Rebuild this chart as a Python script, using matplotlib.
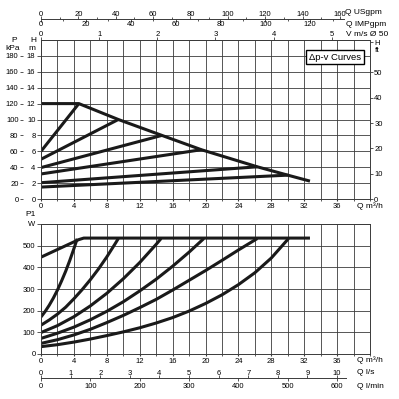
import numpy as np
import matplotlib
matplotlib.use('Agg')
import matplotlib.pyplot as plt

plt.rcParams['font.family'] = ['Liberation Sans', 'DejaVu Sans']
plt.rcParams['font.size'] = 5.5

# head curves (Q m3/h, H m)
head_max_q = [0, 4.6, 9.4, 14.7, 19.5, 26.3, 30.0, 32.7]
head_max_h = [12, 12, 10, 8, 6.2, 4.05, 3.0, 2.25]
dpv_start_h = [6.0, 5.0, 3.95, 3.15, 2.05, 1.5]
dpv_end_q = [4.6, 9.4, 14.7, 19.5, 26.3, 30.0]
dpv_end_h = [12, 10, 8, 6.2, 4.05, 3.0]

# power curves (Q m3/h, P1 W)
pmax_q = [0, 4.6, 5.2, 32.7]
pmax_p = [447, 528, 535, 535]
power_q = [
    [0, 0.5, 1, 1.5, 2, 2.5, 3, 3.5, 4, 4.4],
    [0, 1, 2, 3, 4, 5, 6, 7, 8, 9, 9.4],
    [0, 2, 4, 6, 8, 10, 12, 14, 14.6],
    [0, 2, 4, 6, 8, 10, 12, 14, 16, 18, 19.8],
    [0, 2, 4, 6, 8, 10, 12, 14, 16, 18, 20, 22, 24, 26.3],
    [0, 2, 4, 6, 8, 10, 12, 14, 16, 18, 20, 22, 24, 26, 28, 30.1],
]
power_p = [
    [171, 196, 225, 258, 295, 337, 382, 432, 486, 532],
    [133, 157, 184, 216, 255, 297, 343, 393, 448, 508, 533],
    [99, 131, 172, 222, 280, 347, 422, 506, 533],
    [72, 96, 124, 158, 197, 241, 291, 345, 405, 470, 533],
    [49, 66, 88, 114, 145, 178, 214, 252, 295, 340, 385, 432, 480, 533],
    [34, 43, 55, 69, 85, 102, 121, 143, 168, 198, 233, 273, 320, 375, 443, 533],
]

q_ticks = list(range(0, 37, 4))
h_ticks = list(range(0, 19, 2))
kpa_ticks = list(range(0, 181, 20))
ft_ticks = [0, 10, 20, 30, 40, 50]
w_ticks = list(range(0, 601, 100))
usgpm_ticks = list(range(0, 161, 20))
impgpm_ticks = list(range(0, 121, 20))
v_ticks = [0, 1, 2, 3, 4, 5]
ls_ticks = list(range(0, 11))
lmin_ticks = list(range(0, 601, 100))

# unit factors per m3/h
USGPM = 4.403
IMPGPM = 3.666
V50 = 1 / 7.07
LS = 1 / 3.6
LMIN = 1 / 0.06

W = 399


def fx(x):
    return x / W


def fy(y):
    return 1 - y / W


fig = plt.figure(figsize=(3.99, 3.99), dpi=100)
fig.patch.set_facecolor('white')
GRID = '#3a3a3a'
LW = 2.2

left, right = 41, 370
ax1 = fig.add_axes([fx(left), fy(199), fx(right) - fx(left), fy(40) - fy(199)])
ax2 = fig.add_axes([fx(left), fy(354), fx(right) - fx(left), fy(224) - fy(354)])

for ax in (ax1, ax2):
    ax.set_xlim(0, 40)
    ax.set_xticks(q_ticks)
    ax.set_xticks(range(0, 41, 2), minor=True)
    ax.grid(True, which='both', color=GRID, lw=0.6)
    ax.tick_params(axis='x', which='both', direction='out', length=1.5, pad=1.5, color=GRID)
    ax.tick_params(axis='y', which='both', direction='out', length=3, pad=1, color=GRID, width=0.6)
    for s in ax.spines.values():
        s.set_color(GRID)
        s.set_linewidth(0.7)
    ax.set_axisbelow(True)

# top panel
ax1.set_ylim(0, 20)
ax1.set_yticks(h_ticks)
ax1.set_yticks([20], minor=True)
ax1.tick_params(axis='y', which='minor', length=0)
ax1.plot(head_max_q, head_max_h, color='#1a1a1a', lw=LW, solid_capstyle='butt', solid_joinstyle='miter')
for h0, q1, h1 in zip(dpv_start_h, dpv_end_q, dpv_end_h):
    ax1.plot([0, q1], [h0, h1], color='#1a1a1a', lw=LW, solid_capstyle='butt')

sec = ax1.secondary_xaxis('top', functions=(lambda q: q * V50, lambda v: v / V50))
sec.set_xticks(v_ticks)
sec.tick_params(direction='out', length=2.2, pad=-0.6, color=GRID, width=0.6)
sec.spines['top'].set_visible(False)

axk = ax1.twinx()
axk.set_ylim(0, 200)
axk.yaxis.tick_left()
axk.set_yticks(kpa_ticks)
for s in axk.spines.values():
    s.set_visible(False)
axk.spines['left'].set_position(('outward', 13))
axk.tick_params(axis='y', direction='out', length=2.2, pad=1, color=GRID, width=0.6)

axf = ax1.twinx()
axf.set_ylim(0, 62.8)
axf.set_yticks(ft_ticks + [62.0])
axf.set_yticklabels([str(t) for t in ft_ticks] + ['H'])
for s in axf.spines.values():
    s.set_visible(False)
axf.tick_params(axis='y', direction='out', length=2.2, pad=0.8, color=GRID, width=0.6)

# bottom panel
ax2.set_ylim(0, 600)
ax2.set_yticks(w_ticks)
ax2.set_yticklabels([str(t) for t in w_ticks[:-1]] + ['W'])
ax2.plot(pmax_q, pmax_p, color='#1a1a1a', lw=LW, solid_capstyle='butt')
for qs, ps in zip(power_q, power_p):
    ax2.plot(qs, ps, color='#1a1a1a', lw=LW, solid_capstyle='butt')

# flow scales above
wid = fx(right) - fx(left)
axg = fig.add_axes([fx(left), fy(19), wid, 1e-6])
axg.set_xlim(0, 40 * USGPM)
axg.patch.set_visible(False)
for k in ('left', 'right', 'bottom'):
    axg.spines[k].set_visible(False)
axg.spines['top'].set_bounds(0, 162)
axg.spines['top'].set_color(GRID)
axg.spines['top'].set_linewidth(0.7)
axg.set_yticks([])
axg.xaxis.tick_top()
axg.set_xticks(usgpm_ticks)
axg.set_xticks(range(10, 161, 20), minor=True)
axg.tick_params(axis='x', which='major', length=2.2, pad=-1.2, color=GRID, width=0.6)
axg.tick_params(axis='x', which='minor', length=1.2, color=GRID, width=0.6)

axi = fig.add_axes([fx(left), fy(19), wid, 1e-6])
axi.set_xlim(0, 40 * IMPGPM)
axi.patch.set_visible(False)
for s in axi.spines.values():
    s.set_visible(False)
axi.set_yticks([])
axi.set_xticks(impgpm_ticks)
axi.set_xticks(range(10, 131, 20), minor=True)
axi.tick_params(axis='x', which='major', length=2.2, pad=-0.6, color=GRID, width=0.6)
axi.tick_params(axis='x', which='minor', length=1.2, color=GRID, width=0.6)

# flow scales below
axl = fig.add_axes([fx(left), fy(378), wid, 1e-6])
axl.set_xlim(0, 40 * LS)
axl.patch.set_visible(False)
for k in ('left', 'right', 'bottom'):
    axl.spines[k].set_visible(False)
axl.spines['top'].set_bounds(0, 10.3)
axl.spines['top'].set_color(GRID)
axl.spines['top'].set_linewidth(0.7)
axl.set_yticks([])
axl.xaxis.tick_top()
axl.set_xticks(ls_ticks)
axl.tick_params(axis='x', length=2.2, pad=-1.5, color=GRID, width=0.6)

axm = fig.add_axes([fx(left), fy(378), wid, 1e-6])
axm.set_xlim(0, 40 * LMIN)
axm.patch.set_visible(False)
for s in axm.spines.values():
    s.set_visible(False)
axm.set_yticks([])
axm.set_xticks(lmin_ticks)
axm.tick_params(axis='x', length=2.2, pad=1.5, color=GRID, width=0.6)

# unit captions
fs = 6
for txt, x, y in [('Q USgpm', 345, 13), ('Q IMPgpm', 346, 25), ('V m/s Ø 50', 346, 34),
                  ('Q m³/h', 357, 206), ('Q m³/h', 357, 360), ('Q l/s', 357, 372),
                  ('Q l/min', 357, 386)]:
    fig.text(fx(x), fy(y), txt, fontsize=fs, ha='left', va='center')
fig.text(fx(14), fy(41), 'P', fontsize=fs, ha='center', va='center')
fig.text(fx(13), fy(49), 'kPa', fontsize=fs, ha='center', va='center')
fig.text(fx(33), fy(41), 'H', fontsize=fs, ha='center', va='center')
fig.text(fx(32), fy(49), 'm', fontsize=fs, ha='center', va='center')
fig.text(fx(377), fy(51), 'ft', fontsize=fs, ha='center', va='center')
fig.text(fx(31), fy(215), 'P1', fontsize=fs, ha='center', va='center')

fig.text(fx(335), fy(57), 'Δp-v Curves', fontsize=6.8, ha='center', va='center',
         bbox=dict(boxstyle='square,pad=0.3', fc='white', ec='black', lw=1.0))

fig.savefig('out.png', dpi=100)
